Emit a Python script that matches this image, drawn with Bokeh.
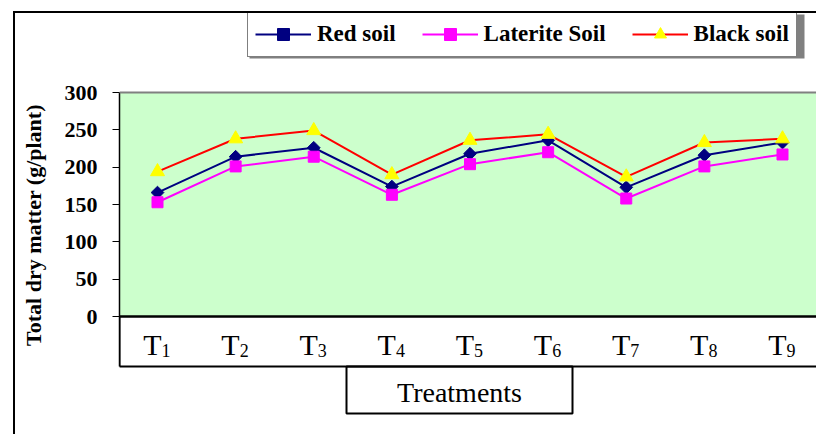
import math

from bokeh.core.properties import value
from bokeh.embed import file_html
from bokeh.models import (BoxAnnotation, FixedTicker, GlobalInlineStyleSheet,
                          InlineStyleSheet, Legend, LegendItem, Range1d, Span)
from bokeh.plotting import figure
from bokeh.resources import INLINE

# --- data -------------------------------------------------------------
treatments = ["T1", "T2", "T3", "T4", "T5", "T6", "T7", "T8", "T9"]
red_soil = [166, 214, 226, 174, 218, 236, 173, 216, 233]
laterite_soil = [153, 201, 214, 163, 204, 220, 158, 201, 217]
black_soil = [194, 238, 249, 190, 236, 244, 187, 233, 238]
y_ticks = [0, 50, 100, 150, 200, 250, 300]
y_max = 300

# --- layout (page pixels) ----------------------------------------------
W, H = 818, 436
BORDER_W = 2                        # chart frame drawn with a css border
MARGIN_LEFT, MARGIN_TOP = 13, 11
ORIGIN_X = MARGIN_LEFT + BORDER_W   # where the canvas starts on the page
ORIGIN_Y = MARGIN_TOP + BORDER_W
FRAME_LEFT = 119
ZERO_PX, Y_MAX_PX = 316, 92         # pixel rows of 0 and of the top value
FIRST_PX, LAST_PX = 157, 782        # pixel columns of first/last treatment

x_pos = [i + 1 for i in range(len(treatments))]
ppu_y = (ZERO_PX - Y_MAX_PX) / y_max
ppu_x = (LAST_PX - FIRST_PX) / (len(treatments) - 1)


def px_x(px):
    return 1 + (px - FIRST_PX) / ppu_x


def px_y(py):
    return (ZERO_PX - py) / ppu_y


SERIF = "Liberation Serif"
NO_SCROLLBARS = ("* { scrollbar-width: none; } "
                 "*::-webkit-scrollbar { display: none; width: 0; height: 0; }")

p = figure(width=W - ORIGIN_X, height=H - ORIGIN_Y,
           output_backend="svg", toolbar_location=None,
           x_range=Range1d(px_x(FRAME_LEFT), px_x(W)),
           y_range=Range1d(px_y(H), px_y(ORIGIN_Y)),
           x_axis_location=None,
           min_border_left=FRAME_LEFT - ORIGIN_X, min_border_right=0,
           min_border_top=0, min_border_bottom=0,
           outline_line_color=None, background_fill_color="white",
           border_fill_color="white")
p.margin = (MARGIN_TOP, 0, 0, MARGIN_LEFT)
p.styles = {"border-left": f"{BORDER_W}px solid black",
            "border-top": f"{BORDER_W}px solid black",
            "overflow": "hidden"}
p.stylesheets = [
    GlobalInlineStyleSheet(
        css="html, body { margin: 0; padding: 0; overflow: hidden; } "
            + NO_SCROLLBARS),
    InlineStyleSheet(css=":host { overflow: hidden; } " + NO_SCROLLBARS),
]
p.grid.visible = False

# plot area background, spanning the full value scale
p.quad(left=[px_x(FRAME_LEFT)], right=[px_x(W + 10)], bottom=[0],
       top=[y_max], fill_color="#CCFFCC", fill_alpha=1, line_color=None)
p.add_layout(Span(location=y_max, dimension="width", line_color="#808080",
                  line_width=2))

# value axis (its line also closes the treatment band on the left)
ya = p.yaxis[0]
ya.ticker = FixedTicker(ticks=y_ticks)
ya.bounds = (px_y(366), y_max)
ya.axis_line_color = "black"
ya.axis_line_width = 1.5
ya.major_tick_in = 0
ya.major_tick_out = 7
ya.minor_tick_in = 0
ya.minor_tick_out = 0
ya.major_label_standoff = 15
ya.major_label_text_font = SERIF
ya.major_label_text_font_style = "bold"
ya.major_label_text_font_size = "22px"
ya.major_label_text_color = "black"
ya.axis_label = "Total dry matter (g/plant)"
ya.axis_label_text_font = SERIF
ya.axis_label_text_font_style = "bold"
ya.axis_label_text_font_size = "22px"
ya.axis_label_text_color = "black"
ya.axis_label_standoff = 16

# treatment band below the zero line
p.add_layout(BoxAnnotation(left=px_x(FRAME_LEFT), right=px_x(W + 10), top=0,
                           bottom=px_y(366), fill_color=None,
                           line_color="black", line_alpha=1, line_width=2))
p.add_layout(Span(location=0, dimension="width", line_color="black",
                  line_width=2))
p.text(x_pos, [px_y(344)] * len(x_pos), text=[t[0] for t in treatments],
       x_offset=4, text_align="right", text_baseline="alphabetic",
       text_font=value(SERIF), text_font_size="30px", text_color="black")
p.text(x_pos, [px_y(350)] * len(x_pos), text=[t[1:] for t in treatments],
       x_offset=4, text_align="left", text_baseline="alphabetic",
       text_font=value(SERIF), text_font_size="18px", text_color="black")

# axis title box
p.add_layout(BoxAnnotation(left=px_x(346), right=px_x(572), top=px_y(366),
                           bottom=px_y(413), fill_color=None,
                           line_color="black", line_alpha=1, line_width=2))
p.text([px_x(459)], [px_y(392)], text=["Treatments"], text_align="center",
       text_baseline="alphabetic", text_font=value(SERIF),
       text_font_size="28px", text_color="black")

# series
series = [
    ("Red soil", red_soil, "#000080", "square", "#000080", 9, math.pi / 4),
    ("Laterite Soil", laterite_soil, "#FF00FF", "square", "#FF00FF", 11, 0),
    ("Black soil", black_soil, "#FF0000", "triangle", "#FFFF00", 14, 0),
]
items = []
for name, vals, lcol, marker, mcol, size, angle in series:
    ln = p.line(x_pos, vals, line_color=lcol, line_width=2)
    sc = p.scatter(x_pos, vals, marker=marker, size=size, angle=angle,
                   fill_color=mcol, line_color=mcol)
    items.append(LegendItem(label=name, renderers=[ln, sc]))

# legend with a soft drop shadow
p.add_layout(BoxAnnotation(left=px_x(249), right=px_x(804), top=px_y(14),
                           bottom=px_y(58), fill_color="#808080",
                           fill_alpha=1, line_color=None))
legend_h = 44
legend = Legend(items=items, orientation="horizontal",
                location=(247 - FRAME_LEFT, H - ORIGIN_Y - legend_h),
                glyph_width=56, glyph_height=30, label_standoff=6,
                spacing=26, padding=7, margin=0,
                border_line_color="black", border_line_width=1,
                background_fill_color="white", background_fill_alpha=1,
                label_text_font=SERIF, label_text_font_style="bold",
                label_text_font_size="23px", label_text_color="black")
p.add_layout(legend)

open("out.html", "w").write(file_html(p, INLINE))
